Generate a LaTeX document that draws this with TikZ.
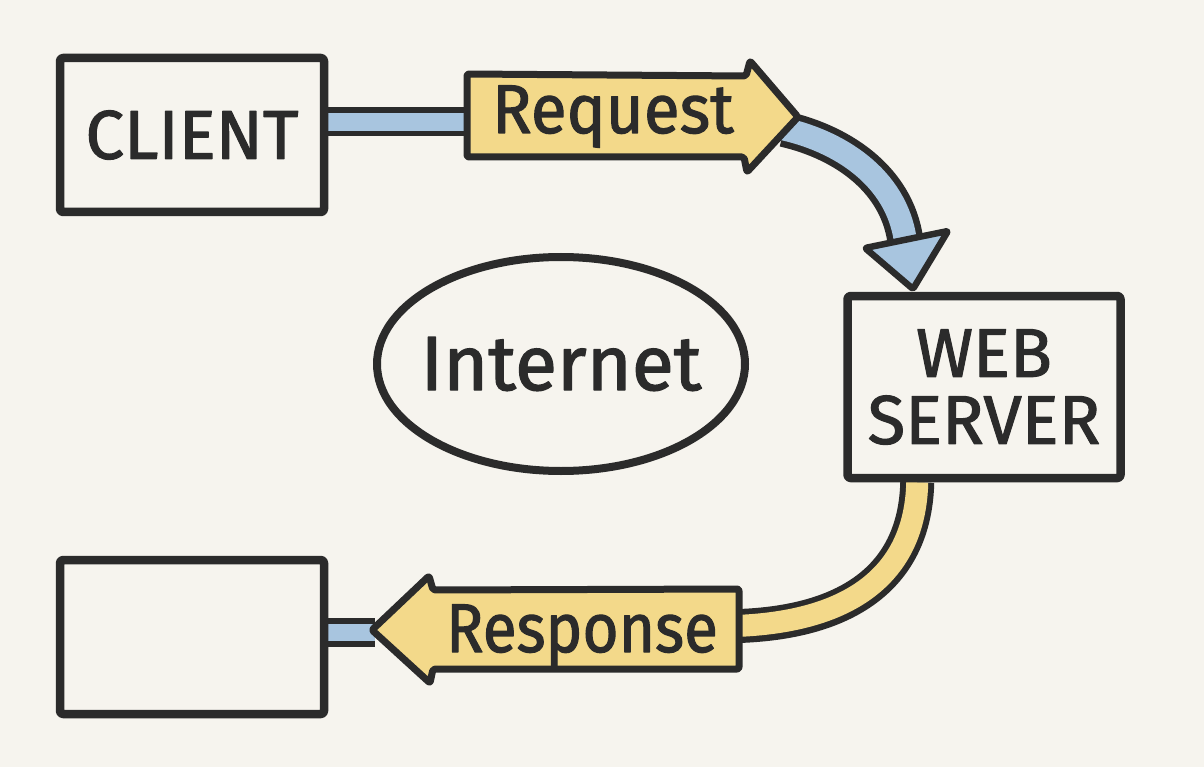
\documentclass[tikz,border=0pt]{standalone}
\usepackage{fontspec}
\setmainfont{Fira Sans}
\newfontfamily\lblfont{Fira Sans}[FakeBold=1.6]
\usetikzlibrary{calc,shapes.geometric}
\definecolor{bg}{HTML}{F6F4EE}
\definecolor{ink}{HTML}{2B2B2B}
\definecolor{yel}{HTML}{F3D98A}
\definecolor{blu}{HTML}{A8C5DF}
\pgfdeclarelayer{bgl}
\pgfdeclarelayer{conn}
\pgfsetlayers{bgl,conn,main}
\begin{document}
\begin{tikzpicture}[x=1pt,y=-1pt,line join=round,
  box/.style={draw=ink,line width=8.5pt,fill=bg,rounded corners=3pt,inner sep=0pt},
  lbl/.style={text=ink,font=\lblfont\fontsize{69}{67}\selectfont,inner sep=0pt},
  outl/.style={ink,line cap=butt},
  arrowbody/.style={draw=ink,line width=7pt,fill=yel,rounded corners=2pt},
  headblue/.style={draw=ink,line width=6.5pt,fill=blu,rounded corners=2pt}]
\begin{pgfonlayer}{bgl}
\fill[bg] (0,0) rectangle (1204,767);
\end{pgfonlayer}
\useasboundingbox (0,0) rectangle (1204,767);

% boxes
\node[box,minimum width=264pt,minimum height=154pt] (client) at (192,135) {};
\node[box,minimum width=264pt,minimum height=154pt] (blank) at (192,637) {};
\node[box,minimum width=273pt,minimum height=182pt] (web) at (984,387) {};
\node[draw=ink,line width=8pt,ellipse,minimum width=368pt,minimum height=214pt,inner sep=0pt] (inet) at (561,364) {};

% named coordinates
\coordinate (reqtail) at (467,122);
\coordinate (reqtip) at (784,129);
\coordinate (webout) at ($(web.south west)+(74,0)$);
\coordinate (resptail) at (739,626);
\coordinate (resptip) at (375,632);

\begin{pgfonlayer}{conn}
% request bar
\draw[outl,line width=29pt] (client.east |- reqtail) -- (reqtail);
\draw[blu,line width=18pt,line cap=butt] (client.east |- reqtail) -- (reqtail);
% response bar
\draw[outl,line width=29pt] (blank.east |- resptip) -- (resptip);
\draw[blu,line width=17pt,line cap=butt] (blank.east |- resptip) -- (resptip);
% blue curved shaft
\draw[outl,line width=36pt] (reqtip) .. controls (845,143) and (900,182) .. (906,246);
\draw[blu,line width=23pt,line cap=butt] (reqtip) .. controls (845,143) and (900,182) .. (906,246);
% yellow curved shaft
\draw[outl,line width=34pt] (webout) .. controls (915,575) and (850,622) .. (resptail);
\draw[yel,line width=22pt,line cap=butt] (webout) .. controls (915,575) and (850,622) .. ($(resptail)+(-4,0)$);
\end{pgfonlayer}

% request arrow
\draw[arrowbody] (467,74) -- (746,76) -- (750,61) -- (798,117) -- (747,172) -- (744,157) -- (467,157) -- cycle;
\node[lbl,anchor=base] (req) at (613,133) {\scalebox{0.95}[1]{Request}};
% response arrow
\draw[arrowbody] (739,589) -- (433,590) -- (429,576) -- (372,630) -- (430,683) -- (433,669) -- (739,669) -- cycle;
\node[lbl,anchor=base] (resp) at (582,652) {\scalebox{0.9}[1]{Response}};

% blue head
\draw[headblue] (865,248) -- (948,231) -- (913,289) -- cycle;

% texts
\node[lbl] at (client) {CLIENT};
\node[lbl,align=center] at (web) {WEB\\SERVER};
\node[lbl,font=\lblfont\fontsize{77}{80}\selectfont] at (inet) {Internet};
\end{tikzpicture}
\end{document}
